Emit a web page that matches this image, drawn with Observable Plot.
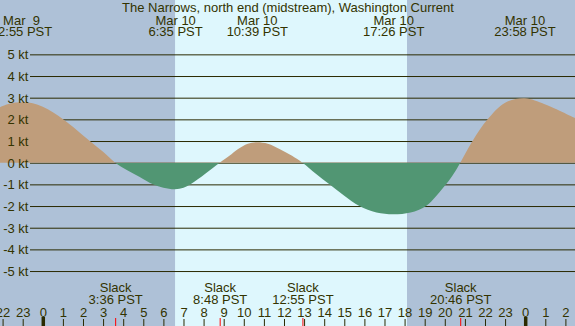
<!DOCTYPE html>
<html>
<head>
<meta charset="utf-8">
<script src="https://cdn.jsdelivr.net/npm/d3@7"></script>
<script src="https://cdn.jsdelivr.net/npm/@observablehq/plot@0.6"></script>
<style>
  html, body { margin: 0; padding: 0; background: #aec1d7; }
  #chart svg { display: block; }
</style>
</head>
<body>
<div id="chart"></div>
<script>
// Hours measured from Mar 10 00:00 PST
const title = "The Narrows, north end (midstream), Washington Current";

// Current speed (kt)
const curveHours = [-2.13, -1.6, -1.08, -0.5, 0, 0.5, 1.01, 1.7, 2.34, 3.0, 3.6,
  4.2, 4.8, 5.48, 6.0, 6.58, 7.0, 7.35, 8.1, 8.8,
  9.3, 9.7, 10.2, 10.65, 11.2, 11.8, 12.4, 12.92,
  13.6, 14.26, 15.0, 15.75, 16.6, 17.43, 18.3, 19.07, 20.06, 20.45, 20.77,
  21.38, 22.13, 23.0, 23.97, 24.94, 25.44, 26.48];
const curveKnots = [2.56, 2.74, 2.79, 2.74, 2.58, 2.33, 2.0, 1.5, 1.0, 0.5, 0,
  -0.35, -0.65, -1.0, -1.16, -1.23, -1.16, -1.0, -0.5, 0,
  0.33, 0.62, 0.87, 0.94, 0.87, 0.62, 0.32, 0,
  -0.52, -1.0, -1.53, -2.0, -2.3, -2.38, -2.3, -2.0, -1.0, -0.5, 0,
  1.0, 2.0, 2.77, 2.97, 2.71, 2.51, 2.06];

// Max current events (top labels)
const maxHours = [-1.083, 6.583, 10.65, 17.433, 23.967];
const maxDates = ["Mar\u00a0\u00a09", "Mar 10", "Mar 10", "Mar 10", "Mar 10"];
const maxTimes = ["22:55 PST", "6:35 PST", "10:39 PST", "17:26 PST", "23:58 PST"];

// Slack events (bottom labels)
const slackHours = [3.6, 8.8, 12.917, 20.767];
const slackTimes = ["3:36 PST", "8:48 PST", "12:55 PST", "20:46 PST"];

// Daylight
const sunrise = 6.58;
const sunset = 18.12;

// Axis ticks
const ktLevels = [5, 4, 3, 2, 1, 0, -1, -2, -3, -4, -5];
const hourTicks = [-2, -1, 0, 1, 2, 3, 4, 5, 6, 7, 8, 9, 10, 11, 12, 13, 14, 15, 16, 17, 18, 19, 20, 21, 22, 23, 24, 25, 26];
const hourLabels = ["22", "23", "0", "1", "2", "3", "4", "5", "6", "7", "8", "9", "10", "11", "12", "13", "14", "15", "16", "17", "18", "19", "20", "21", "22", "23", "0", "1", "2"];
const midnightHours = [0, 24];

const curve = curveHours.map((h, i) => ({h, v: curveKnots[i]}));
const maxEvents = maxHours.map((h, i) => ({h, date: maxDates[i], time: maxTimes[i]}));
const slackEvents = slackHours.map((h, i) => ({h, time: slackTimes[i]}));
const hours = hourTicks.map((h, i) => ({h, label: hourLabels[i]}));

const font = "Liberation Sans, Arial, sans-serif";
const textColor = "#333300";
const lineColor = "#2a2a00";
const fs = 13;
const txt = {fill: textColor, fontSize: fs, lineAnchor: "bottom"};

const chart = Plot.plot({
  width: 575,
  height: 326,
  margin: 0,
  x: {domain: [-2.129, 26.478], axis: null},
  y: {domain: [-7.536, 7.508], axis: null},
  style: {background: "#aec1d7", fontFamily: font, overflow: "hidden"},
  marks: [
    Plot.rect([{a: sunrise, b: sunset}], {x1: "a", x2: "b", fill: "#def7fd"}),
    Plot.ruleY(ktLevels, {stroke: lineColor, strokeWidth: 1, insetLeft: 30}),
    Plot.areaY(curve, {x: "h", y1: 0, y2: "v", fill: "url(#flowfill)", curve: "catmull-rom"}),
    Plot.text(ktLevels, {frameAnchor: "left", y: d => d, text: d => `${d} kt`, textAnchor: "end", dx: 28, dy: 4.5, ...txt}),
    Plot.text([title], {frameAnchor: "top", text: d => d, dy: 11.5, ...txt}),
    Plot.text(maxEvents, {x: "h", frameAnchor: "top", text: "date", dy: 24, ...txt}),
    Plot.text(maxEvents, {x: "h", frameAnchor: "top", text: "time", dy: 35.7, ...txt}),
    Plot.text(slackEvents, {x: "h", frameAnchor: "top", text: () => "Slack", dy: 291.7, ...txt}),
    Plot.text(slackEvents, {x: "h", frameAnchor: "top", text: "time", dy: 303.3, ...txt}),
    Plot.text(hours, {x: "h", frameAnchor: "top", text: "label", dy: 316, ...txt}),
    Plot.ruleX(hourTicks, {x: d => d, stroke: lineColor, strokeWidth: 1, insetTop: 319}),
    Plot.ruleX(midnightHours, {x: d => d, stroke: lineColor, strokeWidth: 3.5, insetTop: 317}),
    Plot.ruleX(slackHours, {x: d => d, stroke: "#ff0000", strokeWidth: 1, insetTop: 318})
  ]
});

// Two-tone fill: tan above 0 kt, green below
const y0 = chart.scale("y").apply(0);
const off = y0 / 326;
const defs = d3.select(chart).insert("defs", ":first-child");
const grad = defs.append("linearGradient")
  .attr("id", "flowfill")
  .attr("gradientUnits", "userSpaceOnUse")
  .attr("x1", 0).attr("y1", 0).attr("x2", 0).attr("y2", 326);
grad.append("stop").attr("offset", off).attr("stop-color", "#bf9d7b");
grad.append("stop").attr("offset", off).attr("stop-color", "#519673");

document.getElementById("chart").appendChild(chart);
</script>
</body>
</html>
